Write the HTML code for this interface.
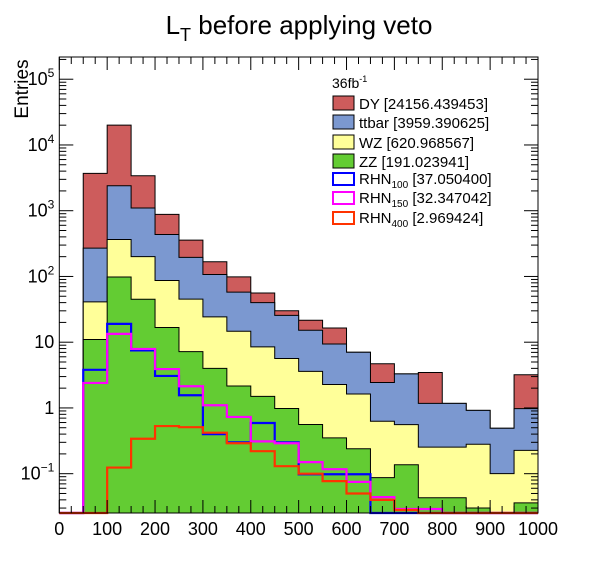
<!DOCTYPE html>
<html><head><meta charset="utf-8"><style>
html,body{margin:0;padding:0;background:#fff;}
svg{display:block;font-family:"Liberation Sans",Arial,sans-serif;}
</style></head><body>
<svg id="chart" width="598" height="571" viewBox="0 0 598 571" xmlns="http://www.w3.org/2000/svg">
<rect x="0" y="0" width="598" height="571" fill="#fff"/>
<text x="299" y="34" font-size="26" text-anchor="middle">L<tspan font-size="18" dy="7">T</tspan><tspan dy="-7"> before applying veto</tspan></text>
<g id="plot"></g>
<g id="axes"></g>
<text x="28" y="89" font-size="19" text-anchor="middle" transform="rotate(-90 28 89)">Entries</text>
<g id="legend"></g>
</svg>
<script>
const binEdges = [0,50,100,150,200,250,300,350,400,450,500,550,600,650,700,750,800,850,900,950,1000];
const zzVals = [0,11,98,45,16.7,7.2,4.0,2.16,1.5,0.98,0.56,0.35,0.24,0.087,0.137,0.043,0.043,0.030,0,0.036];
const wzVals = [0,30,267,155,70,38,20.3,12.5,7.0,4.67,3.04,1.92,1.39,0.54,0.42,0.21,0.21,0.25,0.10,0.19];
const ttVals = [0,229,2035,900,348,150,83,43,31.5,19.9,11.6,7.1,5.4,1.81,2.74,0.92,0.92,0.64,0.39,0.75];
const dyVals = [0,3430,17600,2300,445,161,60,41,16,4.5,6.4,7.1,0,2.26,0,2.29,0,0,0,2.22];
const rhn100Vals = [0,3.8,19,7.5,3.07,1.56,0.40,0.30,0.59,0.30,0.098,0.098,0.098,0,0,0,0,0,0,0];
const rhn150Vals = [0,2.4,13.4,7.9,3.9,2.14,1.1,0.73,0.31,0.29,0.15,0.117,0.075,0.044,0.029,0.029,0,0,0,0];
const rhn400Vals = [0,0,0.124,0.34,0.53,0.51,0.42,0.29,0.22,0.13,0.10,0.077,0.05,0.04,0.028,0,0,0,0,0];
const xTickLabels = [0,100,200,300,400,500,600,700,800,900,1000];
const yDecades = [-1,0,1,2,3,4,5];
const yDecadeLabels = ["10⁻¹","1","10","10²","10³","10⁴","10⁵"];
const legendLabels = ["DY [24156.439453]","ttbar [3959.390625]","WZ [620.968567]","ZZ [191.023941]"];
const sigLegend = [["100","[37.050400]"],["150","[32.347042]"],["400","[2.969424]"]];

const NS="http://www.w3.org/2000/svg";
const L=59.3,R=538,T=57,B=513;
const X0=0,X1=1000, LOGMIN=-1.598, LOGMAX=5.338;
const xs=v=>L+(v-X0)/(X1-X0)*(R-L);
const ys=v=>{ if(v<=0) return B; let y=B-(Math.log10(v)-LOGMIN)/(LOGMAX-LOGMIN)*(B-T); return Math.max(T,Math.min(B,y)); };
function mk(tag,attrs,parent){const e=document.createElementNS(NS,tag);for(const k in attrs)e.setAttribute(k,attrs[k]);parent.appendChild(e);return e;}
const plot=document.getElementById('plot'), axes=document.getElementById('axes'), leg=document.getElementById('legend');

function stepPath(vals,closed){
  let d='';
  if(closed){ d='M'+xs(binEdges[0])+','+B; }
  for(let i=0;i<vals.length;i++){
    const y=ys(vals[i]);
    d+=(d?'L':'M')+xs(binEdges[i])+','+y+'L'+xs(binEdges[i+1])+','+y;
  }
  if(closed) d+='L'+xs(binEdges[binEdges.length-1])+','+B+'Z';
  return d;
}
const s1=zzVals.slice(), s2=s1.map((v,i)=>v+wzVals[i]), s3=s2.map((v,i)=>v+ttVals[i]), s4=s3.map((v,i)=>v+dyVals[i]);
const stacks=[[s4,'#cd5c5c','stack-dy'],[s3,'#7b98d0','stack-ttbar'],[s2,'#ffff99','stack-wz'],[s1,'#63cc33','stack-zz']];
stacks.forEach(([vals,col,nm])=>{
  const p=mk('path',{d:stepPath(vals,true),fill:col,stroke:'#000','stroke-width':1},plot);
  
  
});
const sigs=[[rhn100Vals,'#0000ff','line-rhn100'],[rhn150Vals,'#ff00ff','line-rhn150'],[rhn400Vals,'#ff3300','line-rhn400']];
sigs.forEach(([vals,col,nm])=>{
  let d='M'+xs(binEdges[0])+','+B;
  for(let i=0;i<vals.length;i++){const y=ys(vals[i]);d+='L'+xs(binEdges[i])+','+y+'L'+xs(binEdges[i+1])+','+y;}
  const p=mk('path',{d:d,fill:'none',stroke:col,'stroke-width':2.2},plot);
  
  
});
const fr=mk('rect',{x:L,y:T,width:R-L,height:B-T,fill:'none',stroke:'#000','stroke-width':1},axes);


for(let v=0;v<=1000;v+=25){
  const big=v%100===0, len=big?13:7;
  mk('line',{x1:xs(v),x2:xs(v),y1:B,y2:B-len,stroke:'#000','stroke-width':1},axes);
  mk('line',{x1:xs(v),x2:xs(v),y1:T,y2:T+len,stroke:'#000','stroke-width':1},axes);
}
xTickLabels.forEach(v=>{
  const t=mk('text',{x:xs(v),y:B+22,'font-size':18,'text-anchor':'middle'},axes);
  t.textContent=v;
  
  
});
for(let d=-2;d<=5;d++){
  for(let m=1;m<=9;m++){
    const v=m*Math.pow(10,d); const lv=Math.log10(v);
    if(lv<LOGMIN||lv>LOGMAX) continue;
    const y=ys(v), len=m===1?14:7;
    mk('line',{x1:L,x2:L+len,y1:y,y2:y,stroke:'#000','stroke-width':1},axes);
    mk('line',{x1:R,x2:R-len,y1:y,y2:y,stroke:'#000','stroke-width':1},axes);
  }
}
yDecades.forEach((d,i)=>{
  const y=ys(Math.pow(10,d));
  const t=mk('text',{x:L-5,y:y+6,'font-size':18,'text-anchor':'end'},axes);
  const lab=yDecadeLabels[i];
  if(lab.length>2){ t.textContent='10'; const s=mk('tspan',{'font-size':12,dy:-8},t); s.textContent=lab.slice(2).replace('⁻¹','−1').replace('²','2').replace('³','3').replace('⁴','4').replace('⁵','5'); }
  else t.textContent=lab;
  
  
});
const lt=mk('text',{x:332,y:88,'font-size':14},leg);
lt.textContent='36fb';
const lsup=mk('tspan',{'font-size':9,dy:-6},lt); lsup.textContent='-1';


const rowY=[103,122,142,161,179,198,218];
const fills=['#cd5c5c','#7b98d0','#ffff99','#63cc33'];
legendLabels.forEach((lab,i)=>{
  const r=mk('rect',{x:333,y:rowY[i]-7,width:21,height:14,fill:fills[i],stroke:'#000','stroke-width':1},leg);
  
  
  const t=mk('text',{x:359,y:rowY[i]+6,'font-size':15},leg); t.textContent=lab;
  
  
});
const sc=['#0000ff','#ff00ff','#ff3300'];
sigLegend.forEach((s,j)=>{
  const i=j+4;
  const r=mk('rect',{x:333,y:rowY[i]-6,width:21,height:12,fill:'none',stroke:sc[j],'stroke-width':2},leg);
  
  
  const t=mk('text',{x:359,y:rowY[i]+5,'font-size':15},leg);
  t.textContent='RHN';
  const sub=mk('tspan',{'font-size':10,dy:4},t); sub.textContent=s[0];
  const rest=mk('tspan',{dy:-4},t); rest.textContent=' '+s[1];
  
  
});
</script>
</body></html>
